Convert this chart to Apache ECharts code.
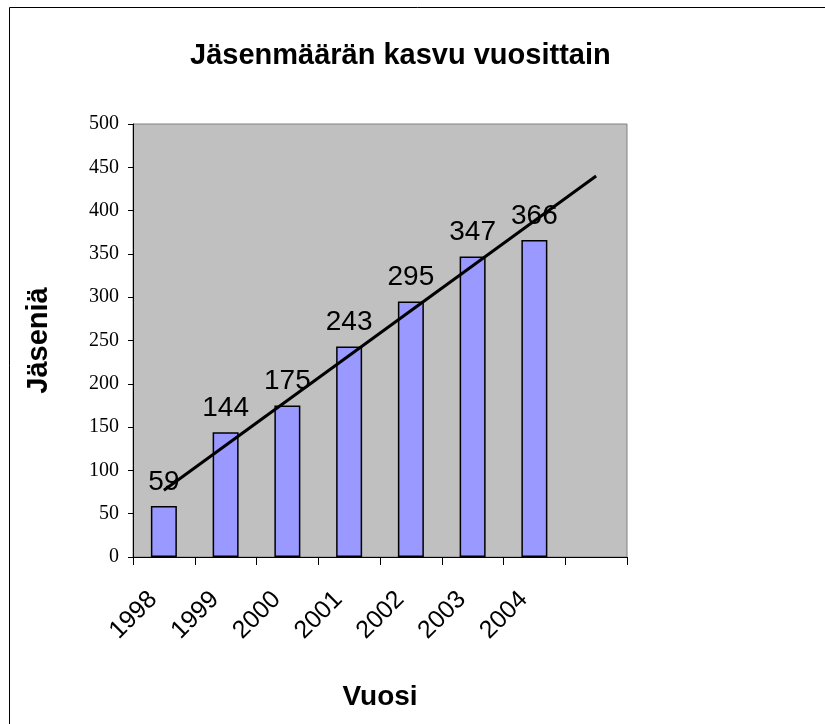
<!DOCTYPE html>
<html>
<head>
<meta charset="utf-8">
<script src="https://cdn.jsdelivr.net/npm/echarts@6/dist/echarts.min.js"></script>
<style>
  html, body { margin: 0; padding: 0; background: #fff; }
  #main { width: 825px; height: 724px; }
</style>
</head>
<body>
<div id="main"></div>
<script>
// vuodet (viimeinen luokka tyhjä, kuten alkuperäisessä)
var years = ['1998', '1999', '2000', '2001', '2002', '2003', '2004', ''];
var members = [59, 144, 175, 243, 295, 347, 366, null];
// trendiviivan päätepisteet luettu kuvasta
var trend = [77, null, null, null, null, null, null, 440];
var yTicks = [0, 500, 50];

var myChart = echarts.init(document.getElementById('main'));
var option = {
    backgroundColor: '#fff',
    animation: false,
    title: {
        text: 'Jäsenmäärän kasvu vuosittain',
        left: 190,
        top: 41,
        padding: 0,
        textStyle: {
            fontFamily: 'Liberation Sans, Arial',
            fontWeight: 'bold',
            fontSize: 29,
            color: '#000'
        }
    },
    grid: {
        left: 133,
        top: 124,
        right: 198,
        bottom: 167,
        show: true,
        backgroundColor: '#C0C0C0',
        borderColor: '#808080',
        borderWidth: 1
    },
    graphic: [
        { type: 'line', shape: { x1: 9.5, y1: 7.5, x2: 825, y2: 7.5 }, style: { stroke: '#000', lineWidth: 1 } },
        { type: 'line', shape: { x1: 9.5, y1: 7.5, x2: 9.5, y2: 724 }, style: { stroke: '#000', lineWidth: 1 } }
    ],
    xAxis: {
        type: 'category',
        data: years,
        name: 'Vuosi',
        nameLocation: 'middle',
        nameGap: 126,
        nameTextStyle: {
            fontFamily: 'Liberation Sans, Arial',
            fontWeight: 'bold',
            fontSize: 28,
            color: '#000'
        },
        axisLine: { show: true, lineStyle: { color: '#000', width: 1 } },
        axisTick: { show: true, length: 8, interval: 0, lineStyle: { color: '#000', width: 1 } },
        axisLabel: {
            rotate: 45,
            margin: 28,
            padding: [0, 15, 0, 0],
            fontFamily: 'Liberation Sans, Arial',
            fontSize: 25,
            color: '#000',
            interval: 0
        }
    },
    yAxis: {
        type: 'value',
        min: yTicks[0],
        max: yTicks[1],
        interval: yTicks[2],
        name: 'Jäseniä',
        nameLocation: 'middle',
        nameGap: 80,
        nameTextStyle: {
            fontFamily: 'Liberation Sans, Arial',
            fontWeight: 'bold',
            fontSize: 29,
            color: '#000'
        },
        axisLine: { show: true, lineStyle: { color: '#000', width: 1 } },
        axisTick: { show: true, length: 5, lineStyle: { color: '#000', width: 1 } },
        splitLine: { show: false },
        axisLabel: {
            margin: 14,
            fontFamily: 'Liberation Serif, Times New Roman',
            fontSize: 20,
            color: '#000'
        }
    },
    series: [
        {
            name: 'Jäseniä',
            type: 'bar',
            data: members,
            barWidth: 26,
            itemStyle: { color: '#9999FF', borderColor: '#000', borderWidth: 1.5 },
            label: {
                show: true,
                position: 'top',
                distance: 10,
                fontFamily: 'Liberation Sans, Arial',
                fontSize: 28,
                color: '#000'
            },
            z: 2
        },
        {
            name: 'Trendi',
            type: 'line',
            data: trend,
            connectNulls: true,
            symbol: 'none',
            lineStyle: { color: '#000', width: 3 },
            z: 3
        }
    ]
};
myChart.setOption(option);
</script>
</body>
</html>
